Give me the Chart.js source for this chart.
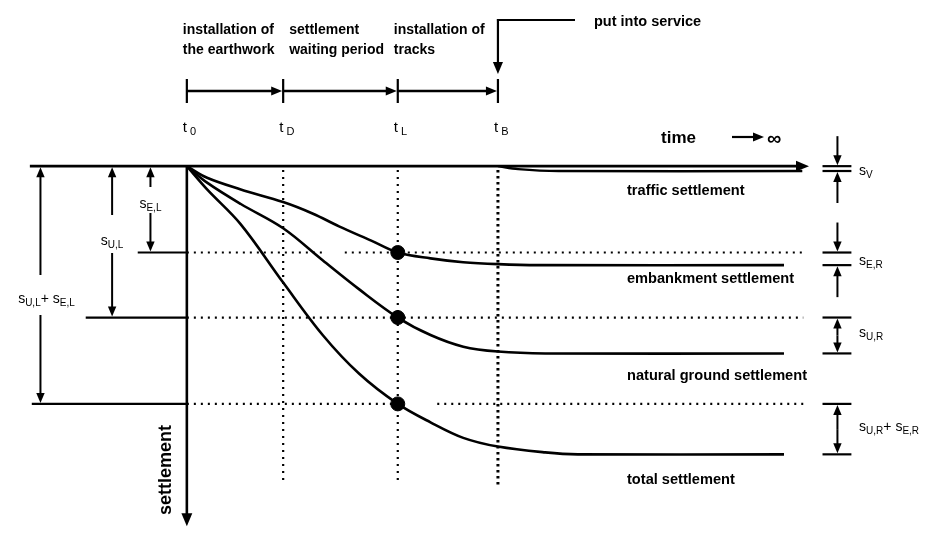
<!DOCTYPE html>
<html>
<head>
<meta charset="utf-8">
<script src="https://cdn.jsdelivr.net/npm/chart.js@4.4.1/dist/chart.umd.min.js"></script>
<style>
  html, body { margin: 0; padding: 0; background: #fff; }
  #wrap { width: 930px; height: 539px; }
</style>
</head>
<body>
<div id="wrap"><canvas id="settleChart" width="930" height="539"></canvas></div>
<script>
// time axis in "phase units" (t0 = 0), settlement positive downwards
const milestoneNames = ['0', 'D', 'L', 'B'];
const milestoneTimes = [0, 1, 2.19, 3.23];
const phaseLabels = [['installation of', 'the earthwork'], ['settlement', 'waiting period'], ['installation of', 'tracks']];

const embankmentT = [0, 0.21, 0.56, 1, 1.31, 1.58, 1.92, 2.19, 2.53, 2.87, 3.23, 3.65, 6.2];
const embankmentS = [0, 1.2, 2.4, 3.7, 4.9, 6.2, 7.7, 8.9, 9.5, 9.9, 10.1, 10.2, 10.2];
const naturalT = [0, 0.21, 0.56, 1, 1.41, 1.79, 2.19, 2.53, 2.87, 3.23, 3.72, 6.2];
const naturalS = [0, 1.7, 3.9, 6.4, 9.7, 12.7, 15.6, 17.4, 18.6, 19.1, 19.3, 19.3];
const totalT = [0, 0.21, 0.56, 1, 1.41, 1.79, 2.19, 2.53, 2.87, 3.23, 3.72, 4.06, 6.2];
const totalS = [0, 2.4, 6.0, 12.0, 17.4, 21.4, 24.5, 26.4, 28.0, 28.9, 29.5, 29.7, 29.7];
const trafficT = [3.23, 3.44, 3.86, 6.39];
const trafficS = [0, 0.3, 0.5, 0.5];

const curveLabels = ['traffic settlement', 'embankment settlement', 'natural ground settlement', 'total settlement'];

const tL = milestoneTimes[2];
const sEL = embankmentS[embankmentT.indexOf(tL)];
const sUL = naturalS[naturalT.indexOf(tL)];
const sSumL = totalS[totalT.indexOf(tL)];
const sEnd = [trafficS[trafficS.length - 1], embankmentS[embankmentS.length - 1], naturalS[naturalS.length - 1], totalS[totalS.length - 1]];

function pts(ts, ss) {
  return ts.map((t, i) => ({ x: t, y: ss[i] }));
}

const FONT = '"Liberation Sans", Arial, Helvetica, sans-serif';

function line(ctx, x1, y1, x2, y2, w, dash) {
  ctx.save();
  ctx.lineWidth = w || 2;
  ctx.setLineDash(dash || []);
  ctx.beginPath();
  ctx.moveTo(x1, y1);
  ctx.lineTo(x2, y2);
  ctx.stroke();
  ctx.restore();
}

function head(ctx, x, y, ang, len) {
  len = len || 10;
  const w = len * 0.42;
  ctx.save();
  ctx.translate(x, y);
  ctx.rotate(ang);
  ctx.beginPath();
  ctx.moveTo(0, 0);
  ctx.lineTo(-len, -w);
  ctx.lineTo(-len, w);
  ctx.closePath();
  ctx.fill();
  ctx.restore();
}

function arrow(ctx, x1, y1, x2, y2, w, len) {
  const ang = Math.atan2(y2 - y1, x2 - x1);
  const l = len || 10;
  line(ctx, x1, y1, x2 - Math.cos(ang) * l * 0.8, y2 - Math.sin(ang) * l * 0.8, w || 2);
  head(ctx, x2, y2, ang, l);
}

// text with subscript parts: [['s', ''], ['U,L', 1], ...]
function subText(ctx, parts, x, y, align, big, small) {
  big = big || 14;
  small = small || 10;
  ctx.save();
  ctx.textBaseline = 'alphabetic';
  ctx.textAlign = 'left';
  let total = 0;
  parts.forEach(p => {
    ctx.font = (p[1] ? small : big) + 'px ' + FONT;
    total += ctx.measureText(p[0]).width;
  });
  let cx = align === 'center' ? x - total / 2 : x;
  parts.forEach(p => {
    ctx.font = (p[1] ? small : big) + 'px ' + FONT;
    ctx.fillText(p[0], cx, p[1] ? y + 3 : y);
    cx += ctx.measureText(p[0]).width;
  });
  ctx.restore();
}

const schematic = {
  id: 'schematic',
  beforeDatasetsDraw(chart) {
    const { ctx, scales: { x, y } } = chart;
    const px = v => x.getPixelForValue(v);
    const py = v => y.getPixelForValue(v);
    ctx.save();
    ctx.strokeStyle = '#000';
    // vertical dotted guides at tD, tL, tB
    line(ctx, px(milestoneTimes[1]), py(0.4), px(milestoneTimes[1]), py(32.8), 2.2, [2, 5]);
    line(ctx, px(milestoneTimes[2]), py(0.4), px(milestoneTimes[2]), py(32.8), 2.2, [2, 5]);
    line(ctx, px(milestoneTimes[3]), py(0.4), px(milestoneTimes[3]), py(32.8), 3, [2.5, 3.5]);
    // horizontal dotted levels at tL
    line(ctx, px(0), py(sEL), px(1.43), py(sEL), 2.2, [2, 5]);
    line(ctx, px(1.64), py(sEL), px(6.4), py(sEL), 2.2, [2, 5]);
    line(ctx, px(0), py(sUL), px(6.4), py(sUL), 2.2, [2, 5]);
    line(ctx, px(0), py(sSumL), px(tL), py(sSumL), 2.2, [2, 5]);
    line(ctx, px(2.6), py(sSumL), px(6.4), py(sSumL), 2.2, [2, 5]);
    ctx.restore();
  },
  afterDatasetsDraw(chart) {
    const { ctx, scales: { x, y } } = chart;
    const px = v => x.getPixelForValue(v);
    const py = v => y.getPixelForValue(v);
    ctx.save();
    ctx.strokeStyle = '#000';
    ctx.fillStyle = '#000';

    // axes
    arrow(ctx, px(-1.63), py(0), px(6.46), py(0), 2.6, 13);
    arrow(ctx, px(0), py(0), px(0), py(37.1), 2.6, 13);

    // left level bars and dimension arrows
    const leftDims = [
      { lvl: sEL, x0: -0.51, ax: -0.378, lab: [['s', ''], ['E,L', 1]], g1: 187, g2: 213, ly: 208 },
      { lvl: sUL, x0: -1.05, ax: -0.776, lab: [['s', ''], ['U,L', 1]], g1: 215, g2: 253, ly: 245 },
      { lvl: sSumL, x0: -1.61, ax: -1.52, lab: [['s', ''], ['U,L', 1], ['+ ', ''], ['s', ''], ['E,L', 1]], g1: 275, g2: 315, ly: 303 }
    ];
    leftDims.forEach(d => {
      line(ctx, px(d.x0), py(d.lvl), px(0), py(d.lvl), 2.2);
      const ax = px(d.ax);
      arrow(ctx, ax, d.g1, ax, py(0) + 1, 2, 10);
      arrow(ctx, ax, d.g2, ax, py(d.lvl) - 1, 2, 10);
      subText(ctx, d.lab, ax + (d.lab.length > 2 ? 6 : 0), d.ly, 'center');
    });

    // right residual dimensions
    const rx = px(6.755), rb1 = px(6.6), rb2 = px(6.9), rl = px(6.98);
    [[sEnd[0] - 0.5, sEnd[0], [['s', ''], ['V', 1]], 'out'],
     [sEL, sEnd[1], [['s', ''], ['E,R', 1]], 'out'],
     [sUL, sEnd[2], [['s', ''], ['U,R', 1]], 'in'],
     [sSumL, sEnd[3], [['s', ''], ['U,R', 1], ['+ ', ''], ['s', ''], ['E,R', 1]], 'in']].forEach(r => {
      const a = py(r[0]), b = py(r[1]);
      line(ctx, rb1, a, rb2, a, 2.2);
      line(ctx, rb1, b, rb2, b, 2.2);
      if (r[3] === 'out') {
        arrow(ctx, rx, a - 30, rx, a - 1, 2, 10);
        arrow(ctx, rx, b + 32, rx, b + 1, 2, 10);
        subText(ctx, r[2], rl, (a + b) / 2 + 6, 'left');
      } else {
        arrow(ctx, rx, (a + b) / 2, rx, a + 1, 2, 10);
        arrow(ctx, rx, (a + b) / 2, rx, b - 1, 2, 10);
        subText(ctx, r[2], rl, (a + b) / 2 + 2, 'left');
      }
    });

    // timeline on top
    const tlY = 91;
    milestoneTimes.forEach((t, i) => {
      line(ctx, px(t), tlY - 12, px(t), tlY + 12, 2.2);
      if (i > 0) arrow(ctx, px(milestoneTimes[i - 1]), tlY, px(t) - 1, tlY, 2.4, 11);
      subText(ctx, [['t', ''], [' ' + milestoneNames[i], 1]], px(t) - 4, 132, 'left', 15, 11);
    });

    // phase labels
    ctx.font = 'bold 14px ' + FONT;
    ctx.textBaseline = 'middle';
    ctx.textAlign = 'left';
    const offs = [-4, 6, -4];
    phaseLabels.forEach((lab, i) => {
      ctx.fillText(lab[0], px(milestoneTimes[i]) + offs[i], 30);
      ctx.fillText(lab[1], px(milestoneTimes[i]) + offs[i], 50);
    });

    // put into service
    const xb = px(milestoneTimes[3]);
    line(ctx, 575, 20, xb - 1, 20, 2.2);
    arrow(ctx, xb, 19, xb, 74, 2.2, 12);
    ctx.font = 'bold 14.5px ' + FONT;
    ctx.fillText('put into service', 594, 22);

    // time -> infinity
    ctx.font = 'bold 17px ' + FONT;
    ctx.fillText('time', 661, 138);
    arrow(ctx, 732, 137, 764, 137, 2.2, 11);
    ctx.font = 'bold 20px ' + FONT;
    ctx.fillText('\u221E', 767, 139);

    // curve labels
    ctx.font = 'bold 14.6px ' + FONT;
    const labY = [191, 279, 376, 480];
    curveLabels.forEach((l, i) => ctx.fillText(l, 627, labY[i]));

    // vertical axis title
    ctx.save();
    ctx.translate(166, 470);
    ctx.rotate(-Math.PI / 2);
    ctx.textAlign = 'center';
    ctx.font = 'bold 18px ' + FONT;
    ctx.fillText('settlement', 0, 0);
    ctx.restore();

    ctx.restore();
  }
};

const curveStyle = {
  type: 'line',
  borderColor: '#000',
  borderWidth: 2.6,
  pointRadius: 0,
  tension: 0.35,
  fill: false
};

new Chart(document.getElementById('settleChart'), {
  type: 'scatter',
  data: {
    datasets: [
      Object.assign({ label: 'embankment', data: pts(embankmentT, embankmentS) }, curveStyle),
      Object.assign({ label: 'natural ground', data: pts(naturalT, naturalS) }, curveStyle),
      Object.assign({ label: 'total', data: pts(totalT, totalS) }, curveStyle),
      Object.assign({ label: 'traffic', data: pts(trafficT, trafficS) }, curveStyle, { borderWidth: 2.4 }),
      {
        label: 'at tL',
        data: [{ x: tL, y: sEL }, { x: tL, y: sUL }, { x: tL, y: sSumL }],
        pointRadius: 7,
        pointBackgroundColor: '#000',
        pointBorderColor: '#000',
        showLine: false
      }
    ]
  },
  options: {
    responsive: false,
    animation: false,
    devicePixelRatio: 1,
    layout: { padding: 0 },
    plugins: { legend: { display: false }, tooltip: { enabled: false } },
    scales: {
      x: { type: 'linear', min: -1.857, max: 7.633, display: false },
      y: { type: 'linear', min: -16.3, max: 37.6, reverse: true, display: false }
    }
  },
  plugins: [schematic]
});
</script>
</body>
</html>
